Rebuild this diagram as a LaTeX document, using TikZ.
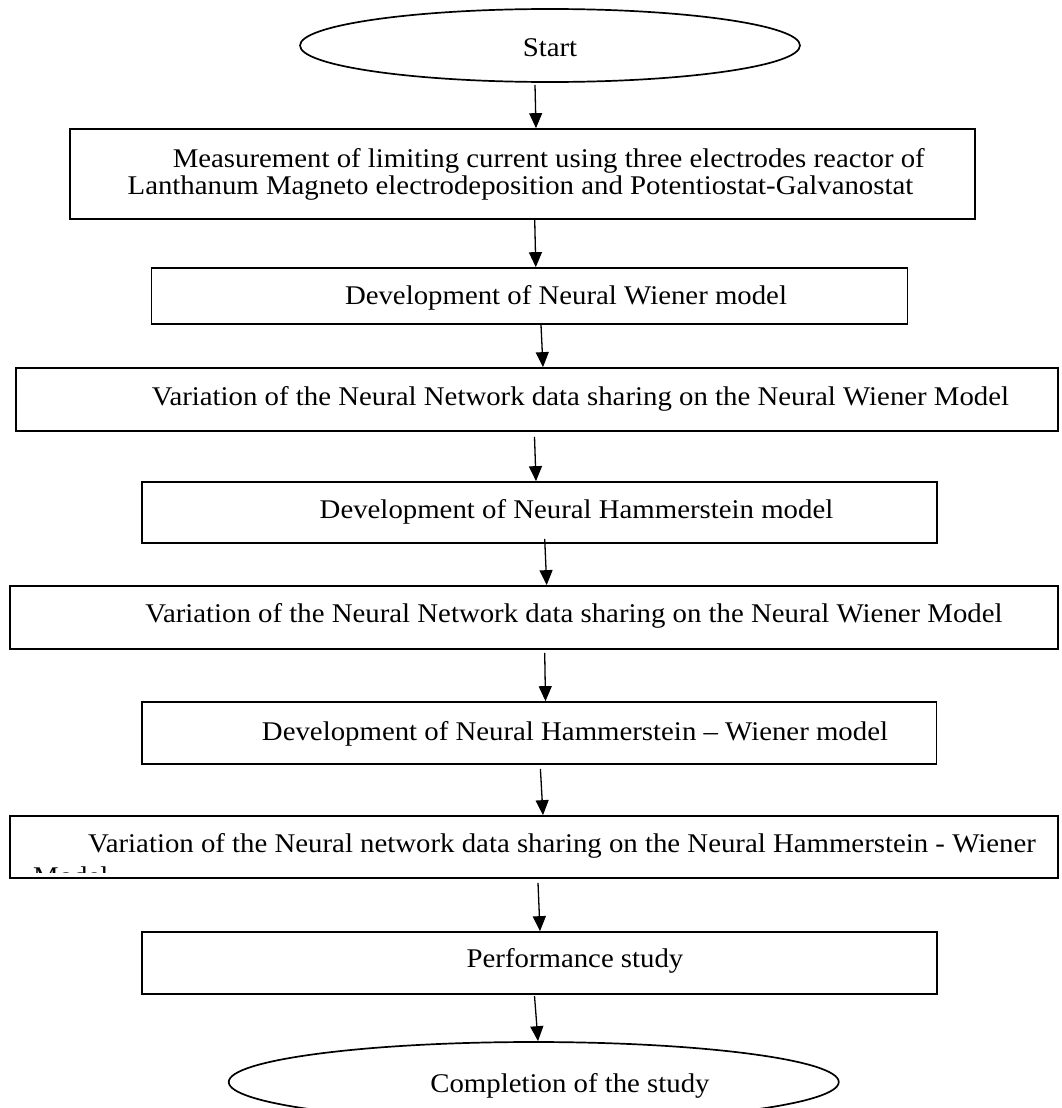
\documentclass[tikz,border=0pt]{standalone}
\usepackage{fontspec}
\setmainfont{Liberation Serif}[FakeStretch=1.067]
\usetikzlibrary{arrows.meta,shapes.geometric}
\begin{document}
\begin{tikzpicture}[x=1pt,y=-1pt,
  box/.style={draw,line width=1.7pt,inner sep=0pt,anchor=center},
  oval/.style={draw,ellipse,line width=1.7pt,inner sep=0pt,anchor=center},
  txt/.style={inner sep=0pt,anchor=base,font=\fontsize{27}{32}\selectfont},
  arr/.style={line width=1.3pt,-{Triangle[length=15pt,width=13pt]}}]
\clip (0,0) rectangle (1061,1108);
\fill[white] (0,0) rectangle (1061,1108);
% shapes
\node[oval,minimum width=500pt,minimum height=73pt] (start) at (550,45.5) {};
\node[box,minimum width=905pt,minimum height=90pt] (b1) at (522.5,174) {};
\node[box,minimum width=756pt,minimum height=56pt] (b2) at (529.5,296) {};
\node[box,minimum width=1042pt,minimum height=63pt] (b3) at (537,399.5) {};
\node[box,minimum width=795pt,minimum height=61pt] (b4) at (539.5,512.5) {};
\node[box,minimum width=1048pt,minimum height=63pt] (b5) at (534,617.5) {};
\node[box,minimum width=794.5pt,minimum height=62pt] (b6) at (539.25,733) {};
\node[box,minimum width=1048pt,minimum height=62pt] (b7) at (534,847) {};
\node[box,minimum width=795pt,minimum height=62pt] (b8) at (539.5,963) {};
\node[oval,minimum width=610pt,minimum height=80pt] (end) at (533.75,1082) {};
% texts
\node[txt] (tstart) at (550,57) {Start};
\node[txt] (t1a) at (548.75,167) {Measurement of limiting current using three electrodes reactor of};
\node[txt] (t1b) at (520.5,194) {Lanthanum Magneto electrodeposition and Potentiostat-Galvanostat};
\node[txt] (t2) at (566,304) {Development of Neural Wiener model};
\node[txt] (t3) at (580.5,405) {Variation of the Neural Network data sharing on the Neural Wiener Model};
\node[txt] (t4) at (576.5,518) {Development of Neural Hammerstein model};
\node[txt] (t5) at (574,622) {Variation of the Neural Network data sharing on the Neural Wiener Model};
\node[txt] (t6) at (575,740) {Development of Neural Hammerstein -- Wiener model};
\node[txt,anchor=base west] (t7) at (88,852) {Variation of the Neural network data sharing on the Neural Hammerstein - Wiener};
\begin{scope}
\clip (0,800) rectangle (1061,872);
\node[txt,anchor=base west] (t7b) at (33,885) {Model};
\end{scope}
\node[txt] (t8) at (575,967) {Performance study};
\node[txt] (tend) at (570,1092) {Completion of the study};
% arrows
\draw[arr] ([xshift=-15pt,yshift=-2pt]start.south) -- ([xshift=13.5pt]b1.north);
\draw[arr] ([xshift=12.2pt]b1.south) -- ([xshift=6.3pt]b2.north);
\draw[arr] ([xshift=11.5pt]b2.south) -- ([xshift=6pt]b3.north);
\draw[arr] ([xshift=-2.5pt,yshift=-5pt]b3.south) -- ([xshift=-3.5pt]b4.north);
\draw[arr] ([xshift=5.2pt,yshift=5pt]b4.south) -- ([xshift=12.7pt]b5.north);
\draw[arr] ([xshift=10.7pt,yshift=-3pt]b5.south) -- ([xshift=6.25pt]b6.north);
\draw[arr] ([xshift=1.15pt,yshift=-4pt]b6.south) -- ([xshift=9pt]b7.north);
\draw[arr] ([xshift=4pt,yshift=-4pt]b7.south) -- ([xshift=0.5pt]b8.north);
\draw[arr] ([xshift=-5pt,yshift=-1pt]b8.south) -- ([xshift=4.25pt]end.north);
\end{tikzpicture}
\end{document}
